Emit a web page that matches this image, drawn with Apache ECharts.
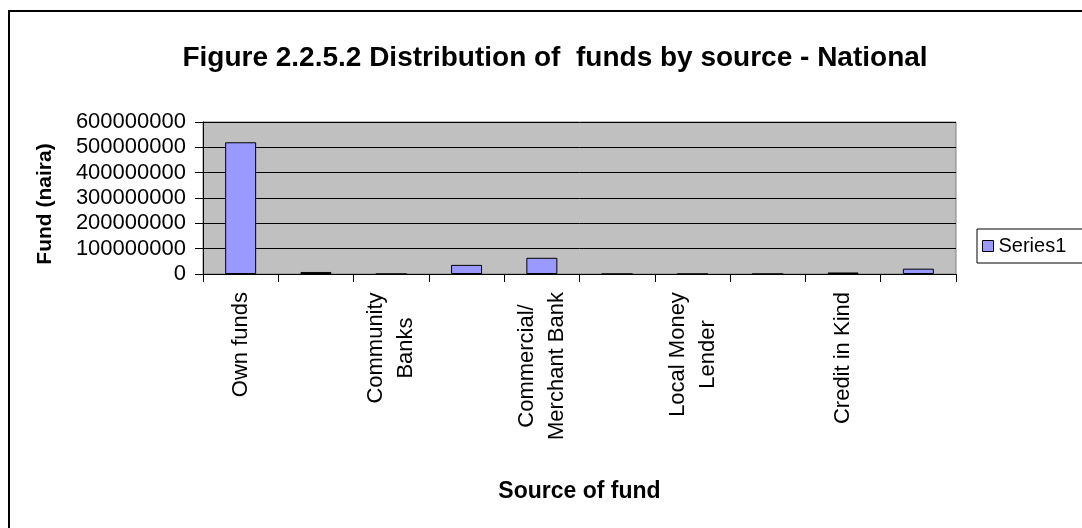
<!DOCTYPE html>
<html>
<head>
<meta charset="utf-8">
<script src="https://cdn.jsdelivr.net/npm/echarts@6/dist/echarts.min.js"></script>
<style>
html,body{margin:0;padding:0;background:#fff;}
#chart{width:1082px;height:528px;}
</style>
</head>
<body>
<div id="chart"></div>
<script>
const titleText = 'Figure 2.2.5.2 Distribution of  funds by source - National';
const categories = ['Own funds', 'Family/Friends', 'Community\nBanks', 'Cooperative Society',
  'Commercial/\nMerchant Bank', 'Government Agencies', 'Local Money\nLender', 'NGOs',
  'Credit in Kind', 'Others'];
const seriesName = 'Series1';
const values = [520000000, 8000000, 0, 36000000, 64000000, 0, 0, 0, 6000000, 21000000];
const yTickLabels = ['0', '100000000', '200000000', '300000000', '400000000', '500000000', '600000000'];
const yMin = 0, yMax = 600000000, yInterval = 100000000;
const xAxisTitle = 'Source of fund';
const yAxisTitle = 'Fund (naira)';

const font = 'Arial, "Liberation Sans", sans-serif';
const labelSize = 22;

// centered multi-line labels: one rich style per label, width = longest line
const ctx = document.createElement('canvas').getContext('2d');
ctx.font = labelSize + 'px ' + font;
const rich = {};
categories.forEach(function (c, i) {
  const lines = c.split('\n');
  if (lines.length > 1) {
    const w = Math.max.apply(null, lines.map(function (l) { return ctx.measureText(l).width; }));
    rich['l' + i] = {width: Math.ceil(w), align: 'center', fontFamily: font, fontSize: labelSize, color: '#000', lineHeight: 30};
  }
});

const chart = echarts.init(document.getElementById('chart'), null, {renderer: 'canvas'});
chart.setOption({
  animation: false,
  backgroundColor: '#fff',
  title: {
    text: titleText,
    left: 550, top: 39, textAlign: 'center',
    textStyle: {fontFamily: font, fontSize: 28, fontWeight: 'bold', color: '#000'}
  },
  legend: {
    data: [seriesName],
    left: 977, top: 229,
    orient: 'vertical',
    icon: 'rect', itemWidth: 11, itemHeight: 11, itemGap: 4,
    padding: [7, 40, 7, 5],
    borderColor: '#000', borderWidth: 1, backgroundColor: '#fff',
    textStyle: {fontFamily: font, fontSize: 20, color: '#000'},
    itemStyle: {borderColor: '#000', borderWidth: 1}
  },
  grid: {
    left: 203, right: 126, top: 122, bottom: 254,
    show: true, backgroundColor: '#C0C0C0', borderColor: '#808080', borderWidth: 1
  },
  xAxis: {
    type: 'category',
    data: categories,
    name: xAxisTitle,
    nameLocation: 'middle', nameGap: 206,
    nameTextStyle: {fontFamily: font, fontSize: 23, fontWeight: 'bold', color: '#000'},
    axisLine: {lineStyle: {color: '#000', width: 1}},
    axisTick: {show: true, length: 8, interval: 0, alignWithLabel: false, lineStyle: {color: '#000'}},
    axisLabel: {
      interval: 1, rotate: 90, margin: 18,
      fontFamily: font, fontSize: labelSize, color: '#000', lineHeight: 30,
      rich: rich,
      formatter: function (v, i) {
        const lines = v.split('\n');
        if (lines.length < 2) return v;
        return lines.map(function (l) { return '{l' + i + '|' + l + '}'; }).join('\n');
      }
    },
    splitLine: {show: false}
  },
  yAxis: {
    type: 'value',
    min: yMin, max: yMax, interval: yInterval,
    name: yAxisTitle,
    nameLocation: 'middle', nameGap: 147,
    nameTextStyle: {fontFamily: font, fontSize: 21, fontWeight: 'bold', color: '#000', padding: [0, 12, 0, 0]},
    axisLine: {show: true, lineStyle: {color: '#000', width: 1}},
    axisTick: {show: true, length: 8, inside: false, lineStyle: {color: '#000'}},
    axisLabel: {
      margin: 17, fontFamily: font, fontSize: 22, color: '#000',
      formatter: function (v) { return yTickLabels[Math.round((v - yMin) / yInterval)]; }
    },
    splitLine: {show: true, lineStyle: {color: '#000', width: 1}}
  },
  series: [{
    name: seriesName,
    type: 'bar',
    data: values,
    barWidth: 31,
    itemStyle: {color: '#9999FF', borderColor: '#000', borderWidth: 1}
  }],
  graphic: [{
    type: 'rect',
    shape: {x: 9, y: 11, width: 1200, height: 700},
    style: {fill: null, stroke: '#000', lineWidth: 2},
    silent: true, z: 100
  }]
});
</script>
</body>
</html>
